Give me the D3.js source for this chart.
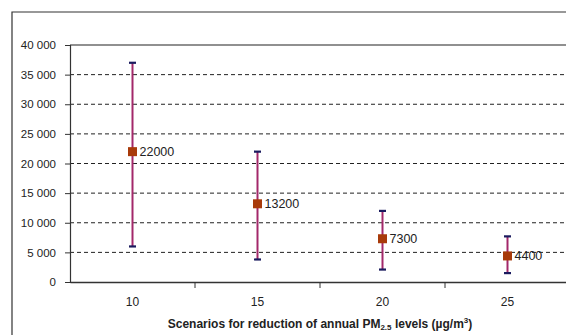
<!DOCTYPE html>
<html><head><meta charset="utf-8">
<script src="https://cdn.jsdelivr.net/npm/d3@7"></script>
<style>body{margin:0;background:#fff}svg{display:block}</style>
</head><body>
<script>
const categories = ["10", "15", "20", "25"];
const central = [22000, 13200, 7300, 4400];
const lower = [6000, 3800, 2100, 1500];
const upper = [37000, 22000, 12000, 7700];
const yTicks = [0, 5000, 10000, 15000, 20000, 25000, 30000, 35000, 40000];

const W = 566, H = 335;
const svg = d3.select("body").append("svg").attr("width", W).attr("height", H);
const font = "'Liberation Sans', Arial, sans-serif";

// outer frame
svg.append("path").attr("d", "M12,335V12H566").attr("fill", "none").attr("stroke", "#333").attr("stroke-width", 1.2);

const x = d3.scaleBand().domain(categories).range([70, 570]);
const y = d3.scaleLinear().domain([0, 40000]).range([282, 45]);

const fmt = v => d3.format(",")(v).replace(/,/g, " ");

// grid
svg.append("g").selectAll("line").data(yTicks.filter(t => t > 0 && t < 40000)).join("line")
  .attr("x1", 70).attr("x2", 566).attr("y1", d => y(d)).attr("y2", d => y(d))
  .attr("stroke", "#222").attr("stroke-dasharray", "4,3").attr("stroke-width", 1);
svg.append("line").attr("x1", 70).attr("x2", 566).attr("y1", y(40000)).attr("y2", y(40000))
  .attr("stroke", "#222").attr("stroke-width", 1.2);

// y axis
const yAx = svg.append("g").attr("transform", "translate(70,0)")
  .call(d3.axisLeft(y).tickValues(yTicks).tickFormat(fmt).tickSize(5).tickPadding(9));
yAx.select(".domain").attr("stroke", "#333").attr("stroke-width", 1.2);
yAx.selectAll("line").attr("stroke", "#333");
yAx.selectAll("text").attr("font-family", font).attr("font-size", 11.5).attr("fill", "#222");

// x axis
const xAx = svg.append("g").attr("transform", "translate(0,282)")
  .call(d3.axisBottom(x).tickSize(0).tickPadding(15));
xAx.select(".domain").attr("stroke", "#333").attr("stroke-width", 1.5);
xAx.selectAll("text").attr("font-family", font).attr("font-size", 12).attr("fill", "#222");
svg.append("g").selectAll("line").data(categories.slice(1)).join("line")
  .attr("x1", d => x(d)).attr("x2", d => x(d)).attr("y1", 282).attr("y2", 288)
  .attr("stroke", "#333");

// error bars
const cx = d => x(d) + x.bandwidth() / 2;
const g = svg.append("g");
g.selectAll("line.err").data(categories).join("line").attr("class", "err")
  .attr("x1", cx).attr("x2", cx)
  .attr("y1", (d, i) => y(lower[i])).attr("y2", (d, i) => y(upper[i]))
  .attr("stroke", "#a3286a").attr("stroke-width", 2);
[lower, upper].forEach(arr => {
  g.selectAll(null).data(categories).join("line")
    .attr("x1", d => cx(d) - 3.5).attr("x2", d => cx(d) + 3.5)
    .attr("y1", (d, i) => y(arr[i])).attr("y2", (d, i) => y(arr[i]))
    .attr("stroke", "#1a1a5e").attr("stroke-width", 2.2);
});
g.selectAll("rect").data(categories).join("rect")
  .attr("x", d => cx(d) - 4.5).attr("y", (d, i) => y(central[i]) - 4.5)
  .attr("width", 9).attr("height", 9).attr("fill", "#a83a0a");
g.selectAll("text").data(categories).join("text")
  .attr("x", d => cx(d) + 7).attr("y", (d, i) => y(central[i]) + 4.5)
  .attr("font-family", font).attr("font-size", 12.5).attr("fill", "#222")
  .text((d, i) => central[i]);

// x label
const xl = svg.append("text").attr("x", 320).attr("y", 328).attr("text-anchor", "middle")
  .attr("font-family", font).attr("font-size", 12).attr("font-weight", "bold").attr("fill", "#222");
xl.append("tspan").text("Scenarios for reduction of annual PM");
xl.append("tspan").attr("font-size", 8).attr("dy", 2).text("2.5");
xl.append("tspan").attr("dy", -2).text(" levels (µg/m");
xl.append("tspan").attr("font-size", 8).attr("dy", -5).text("3");
xl.append("tspan").attr("dy", 5).text(")");
</script>
</body></html>
